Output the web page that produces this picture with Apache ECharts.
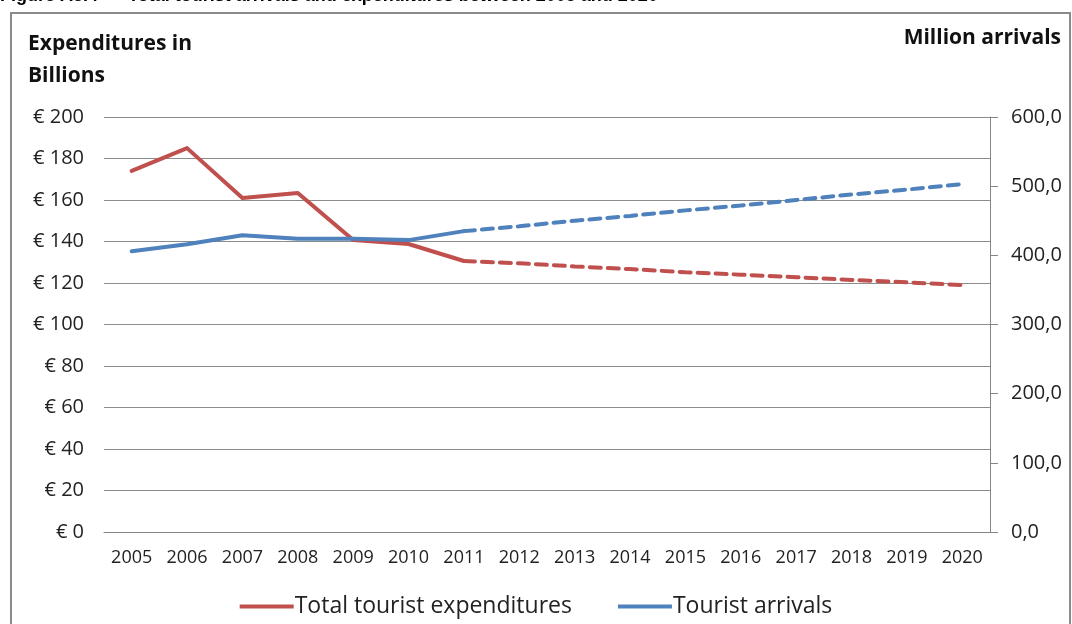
<!DOCTYPE html>
<html>
<head>
<meta charset="utf-8">
<script src="https://cdn.jsdelivr.net/npm/echarts@6/dist/echarts.min.js"></script>
<style>
html,body{margin:0;padding:0;background:#fff;}
#chart{width:1072px;height:624px;}
</style>
</head>
<body>
<div id="chart"></div>
<script>
const years = ['2005','2006','2007','2008','2009','2010','2011','2012','2013','2014','2015','2016','2017','2018','2019','2020'];
const expenditures = [174, 185, 161, 163.4, 140.7, 138.8, 130.6, 129.5, 128, 126.7, 125.2, 124, 122.8, 121.5, 120.3, 119];
const arrivals = [406, 416, 429, 424, 424, 422, 435, 442, 450, 457, 465, 472, 480, 488, 495, 503];
const forecastStartIndex = 6; // 2011: dashed projection begins
const leftTicks = {min: 0, max: 200, interval: 20};
const rightTicks = {min: 0, max: 600, interval: 100};

function actualPart(arr){ return arr.map((v,i)=> i <= forecastStartIndex ? v : null); }
function forecastPart(arr){ return arr.map((v,i)=> i >= forecastStartIndex ? v : null); }

const RED = '#C0504D', BLUE = '#4F81BD';
const FONT = '"Open Sans", Lato, sans-serif';

const chart = echarts.init(document.getElementById('chart'), null, {renderer:'canvas'});
chart.setOption({
  animation: false,
  backgroundColor: '#fff',
  grid: {left: 104, right: 82, top: 117, bottom: 92, containLabel: false},
  xAxis: {
    type: 'category', data: years, boundaryGap: true,
    axisLine: {show: true, lineStyle: {color: '#868686', width: 1}},
    axisTick: {show: false},
    axisLabel: {color: '#222', fontFamily: FONT, fontSize: 18, margin: 17}
  },
  yAxis: [
    {
      type: 'value', min: leftTicks.min, max: leftTicks.max, interval: leftTicks.interval, position: 'left',
      axisLine: {show: false}, axisTick: {show: false},
      splitLine: {show: true, lineStyle: {color: '#8c8c8c', width: 1}},
      axisLabel: {color: '#222', fontFamily: FONT, fontSize: 20, margin: 20, formatter: v => '€ ' + v}
    },
    {
      type: 'value', min: rightTicks.min, max: rightTicks.max, interval: rightTicks.interval, position: 'right',
      axisLine: {show: true, lineStyle: {color: '#868686', width: 1}},
      axisTick: {show: true, length: 8, inside: false, lineStyle: {color: '#868686'}},
      splitLine: {show: false},
      axisLabel: {color: '#222', fontFamily: FONT, fontSize: 20, margin: 21, formatter: v => v.toFixed(1).replace('.', ',')}
    }
  ],
  legend: {
    bottom: 1, left: 'center', itemWidth: 54, itemHeight: 4, itemGap: 46,
    icon: 'rect',
    textStyle: {color: '#222', fontFamily: FONT, fontSize: 23, padding: [0,0,0,-4]},
    data: [{name: 'Total tourist expenditures'}, {name: 'Tourist arrivals'}]
  },
  series: [
    {name: 'Total tourist expenditures', type: 'line', yAxisIndex: 0, data: actualPart(expenditures),
     symbol: 'none', lineStyle: {color: RED, width: 4, cap: 'round', join: 'round'}, itemStyle: {color: RED}},
    {name: 'Total tourist expenditures', type: 'line', yAxisIndex: 0, data: forecastPart(expenditures),
     symbol: 'none', lineStyle: {color: RED, width: 4, type: [11, 7], cap: 'round'}, itemStyle: {color: RED}},
    {name: 'Tourist arrivals', type: 'line', yAxisIndex: 1, data: actualPart(arrivals),
     symbol: 'none', lineStyle: {color: BLUE, width: 4, cap: 'round', join: 'round'}, itemStyle: {color: BLUE}},
    {name: 'Tourist arrivals', type: 'line', yAxisIndex: 1, data: forecastPart(arrivals),
     symbol: 'none', lineStyle: {color: BLUE, width: 4, type: [11, 7], cap: 'round'}, itemStyle: {color: BLUE}}
  ],
  graphic: [
    {type: 'rect', shape: {x: 11, y: 13, width: 1059, height: 640}, style: {fill: 'none', stroke: '#8a8a8a', lineWidth: 2}, silent: true},
    {type: 'text', left: 0, top: -13, style: {text: 'Figure A3.4      Total tourist arrivals and expenditures between 2005 and 2020', font: 'bold 18px "Liberation Sans", Arial, sans-serif', fill: '#000'}},
    {type: 'text', left: 28, top: 28, style: {text: 'Expenditures in\nBillions', font: 'bold 21px ' + FONT, fill: '#111', lineHeight: 32}},
    {type: 'text', right: 11, top: 28, style: {text: 'Million arrivals', font: 'bold 21px ' + FONT, fill: '#111'}}
  ]
});
</script>
</body>
</html>
